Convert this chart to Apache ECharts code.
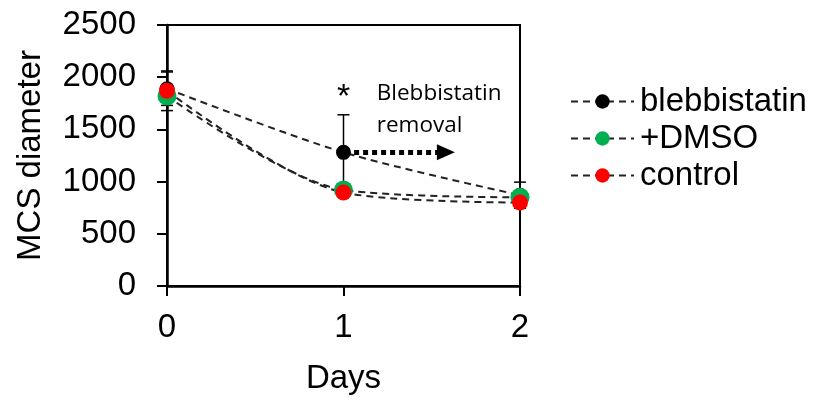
<!DOCTYPE html>
<html><head><meta charset="utf-8">
<script src="https://cdn.jsdelivr.net/npm/echarts@6/dist/echarts.min.js"></script>
<style>html,body{margin:0;padding:0;background:#fff}#c{width:824px;height:400px}</style>
</head><body><div id="c"></div>
<script>
const days = [0, 1, 2];
const blebbistatin = [1890, 1280, 870];
const dmso = [1820, 920, 850];
const control = [1870, 895, 800];
const blebbErr = [160, 360, 125];
const dmsoErr = [0, 30, 30];
const controlErr = [190, 30, 30];
const yTicks = [0, 500, 1000, 1500, 2000, 2500];

const chart = echarts.init(document.getElementById('c'));
const FONT = '"Liberation Sans", Arial, sans-serif';
const FS = 33;

function errData(vals, errs) { return days.map((d, i) => [d, vals[i] - errs[i], vals[i] + errs[i]]); }
function errSeries(vals, errs) {
  return {
    type: 'custom', silent: true, z: 1,
    data: errData(vals, errs),
    renderItem: function (params, api) {
      const x = api.value(0);
      const lo = api.coord([x, api.value(1)]);
      const hi = api.coord([x, api.value(2)]);
      const w = 6;
      return { type: 'group', children: [
        { type: 'line', shape: { x1: lo[0], y1: lo[1], x2: hi[0], y2: hi[1] }, style: { stroke: '#000', lineWidth: 1.5 } },
        { type: 'line', shape: { x1: hi[0] - w, y1: hi[1], x2: hi[0] + w, y2: hi[1] }, style: { stroke: '#000', lineWidth: 1.5 } },
        { type: 'line', shape: { x1: lo[0] - w, y1: lo[1], x2: lo[0] + w, y2: lo[1] }, style: { stroke: '#000', lineWidth: 1.5 } }
      ]};
    }
  };
}
function lineSeries(name, vals, color, size) {
  return {
    name: name, type: 'line', smooth: 0.3, z: 3,
    data: days.map((d, i) => [d, vals[i]]),
    symbol: 'circle', symbolSize: size,
    itemStyle: { color: color, borderWidth: 0 },
    lineStyle: { color: '#222', type: [7, 5], width: 2 }
  };
}

chart.setOption({
  animation: false,
  grid: { left: 167, right: 304, top: 25, bottom: 111, show: true, borderColor: '#000', borderWidth: 2 },
  xAxis: {
    type: 'value', min: 0, max: 2, interval: 1,
    name: 'Days', nameLocation: 'middle', nameGap: 76,
    nameTextStyle: { fontFamily: FONT, fontSize: FS, color: '#000' },
    axisLine: { lineStyle: { color: '#000', width: 2.5 } },
    axisTick: { show: true, length: 10, lineStyle: { color: '#000', width: 2 } },
    axisLabel: { fontFamily: FONT, fontSize: FS, color: '#000', margin: 25 },
    splitLine: { show: false }
  },
  yAxis: {
    type: 'value', min: 0, max: 2500, interval: 500,
    name: 'MCS diameter', nameLocation: 'middle', nameGap: 120,
    nameTextStyle: { fontFamily: FONT, fontSize: FS, color: '#000' },
    axisLine: { show: true, lineStyle: { color: '#000', width: 2.5 } },
    axisTick: { show: true, length: 10, lineStyle: { color: '#000', width: 2 } },
    axisLabel: { fontFamily: FONT, fontSize: FS, color: '#000', margin: 31,
      formatter: v => yTicks.indexOf(v) >= 0 ? String(v) : '' },
    splitLine: { show: false }
  },
  legend: {
    orient: 'vertical', left: 565, top: 80, itemGap: 4, itemWidth: 63, itemHeight: 18,
    textStyle: { fontFamily: FONT, fontSize: FS, color: '#000', padding: [0, 0, 0, 1] },
    data: ['blebbistatin', '+DMSO', 'control']
  },
  series: [
    errSeries(blebbistatin, blebbErr),
    errSeries(dmso, dmsoErr),
    errSeries(control, controlErr),
    Object.assign(lineSeries('blebbistatin', blebbistatin, '#000', 15), {
      markLine: {
        silent: true, symbol: ['none', 'triangle'], symbolSize: [16, 18],
        lineStyle: { color: '#000', type: [5, 4], width: 5 },
        label: { show: false },
        data: [[{ coord: [1.06, 1280] }, { coord: [1.58, 1280] }]]
      },
      markPoint: {
        silent: true, symbol: 'rect', symbolSize: 1, itemStyle: { color: 'transparent' },
        data: [
          { coord: [1, 1880], label: { show: true, formatter: '*', fontFamily: FONT, fontSize: 34, color: '#000', position: 'inside', offset: [0, 8] } },
          { coord: [1.18, 1850], label: { show: true, formatter: 'Blebbistatin\nremoval', fontFamily: '"Open Sans", "Noto Sans", sans-serif', fontSize: 22.5, lineHeight: 32, color: '#000', position: 'right', align: 'left', verticalAlign: 'top', offset: [-4, -15] } }
        ]
      }
    }),
    lineSeries('+DMSO', dmso, '#00b050', 19),
    lineSeries('control', control, '#ff0000', 16)
  ]
});
</script></body></html>
